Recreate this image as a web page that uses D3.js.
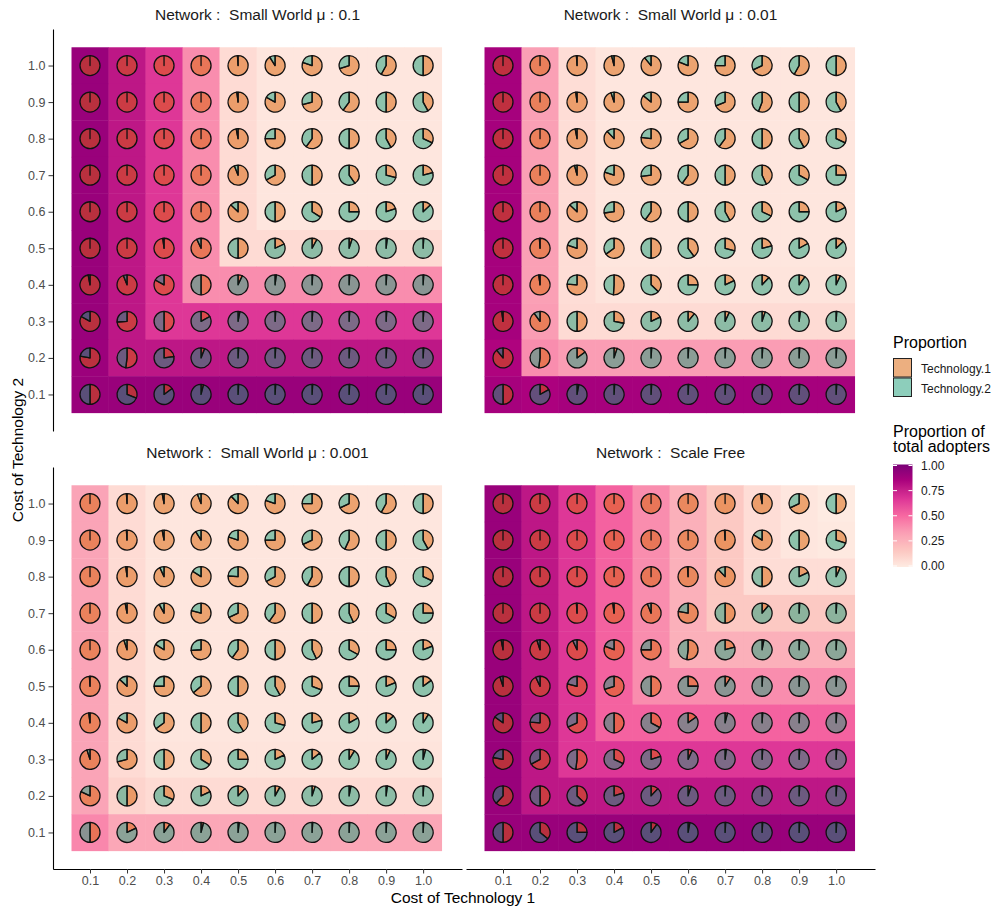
<!DOCTYPE html>
<html><head><meta charset="utf-8">
<script src="https://cdn.jsdelivr.net/npm/d3@7"></script>
<style>
body{margin:0;background:#fff}
svg{font-family:"Liberation Sans",Arial,Helvetica,sans-serif}
text{white-space:pre}
</style>
</head><body>
<svg id="chart" width="997" height="909"></svg>
<script>
// ---------------- DATA ----------------
const cost1 = [0.1,0.2,0.3,0.4,0.5,0.6,0.7,0.8,0.9,1.0];
const cost2Rows = [1.0,0.9,0.8,0.7,0.6,0.5,0.4,0.3,0.2,0.1]; // rows top -> bottom
const panelTitles = [
  "Network :  Small World μ : 0.1",
  "Network :  Small World μ : 0.01",
  "Network :  Small World μ : 0.001",
  "Network :  Scale Free"
];
const seriesNames = ["Technology.1","Technology.2"];
const legendBreaks = [0,0.25,0.5,0.75,1];

// proportion of total adopters (tile fill), rows cost2 = 1.0 ... 0.1
const adoptersSW01 = [
  [0.90,0.78,0.66,0.39,0.07,0.02,0.02,0.02,0.02,0.02],
  [0.90,0.78,0.66,0.39,0.07,0.02,0.02,0.02,0.02,0.02],
  [0.90,0.78,0.66,0.39,0.07,0.02,0.02,0.02,0.02,0.02],
  [0.90,0.78,0.66,0.39,0.07,0.02,0.02,0.02,0.02,0.02],
  [0.90,0.78,0.66,0.39,0.07,0.02,0.02,0.02,0.02,0.02],
  [0.90,0.78,0.66,0.39,0.07,0.07,0.07,0.07,0.07,0.07],
  [0.90,0.78,0.66,0.39,0.39,0.39,0.39,0.39,0.39,0.39],
  [0.90,0.78,0.66,0.66,0.66,0.66,0.66,0.66,0.66,0.66],
  [0.89,0.78,0.78,0.78,0.78,0.78,0.78,0.78,0.78,0.78],
  [0.90,0.90,0.90,0.90,0.90,0.90,0.90,0.90,0.90,0.90]
];
const adoptersSW001 = [
  [0.86,0.33,0.06,0.02,0.02,0.02,0.02,0.02,0.02,0.02],
  [0.86,0.33,0.06,0.02,0.02,0.02,0.02,0.02,0.02,0.02],
  [0.86,0.33,0.06,0.02,0.02,0.02,0.02,0.02,0.02,0.02],
  [0.86,0.33,0.06,0.02,0.02,0.02,0.02,0.02,0.02,0.02],
  [0.86,0.33,0.06,0.02,0.02,0.02,0.02,0.02,0.02,0.02],
  [0.86,0.33,0.06,0.02,0.02,0.02,0.02,0.02,0.02,0.02],
  [0.86,0.33,0.06,0.03,0.03,0.03,0.03,0.03,0.03,0.03],
  [0.86,0.34,0.07,0.07,0.07,0.07,0.07,0.07,0.07,0.07],
  [0.83,0.39,0.34,0.34,0.34,0.34,0.34,0.34,0.34,0.34],
  [0.86,0.84,0.86,0.86,0.86,0.86,0.86,0.86,0.86,0.86]
];
const adoptersSW0001 = [
  [0.31,0.07,0.02,0.02,0.02,0.02,0.02,0.02,0.02,0.02],
  [0.31,0.07,0.02,0.02,0.02,0.02,0.02,0.02,0.02,0.02],
  [0.31,0.07,0.02,0.02,0.02,0.02,0.02,0.02,0.02,0.02],
  [0.31,0.07,0.02,0.02,0.02,0.02,0.02,0.02,0.02,0.02],
  [0.31,0.07,0.02,0.02,0.02,0.02,0.02,0.02,0.02,0.02],
  [0.31,0.07,0.02,0.02,0.02,0.02,0.02,0.02,0.02,0.02],
  [0.31,0.07,0.02,0.02,0.02,0.02,0.02,0.02,0.02,0.02],
  [0.31,0.07,0.03,0.03,0.03,0.03,0.03,0.03,0.03,0.03],
  [0.31,0.10,0.07,0.07,0.07,0.07,0.07,0.07,0.07,0.07],
  [0.41,0.30,0.30,0.30,0.30,0.30,0.30,0.30,0.30,0.30]
];
const adoptersSF = [
  [0.90,0.78,0.66,0.52,0.39,0.26,0.15,0.06,0.02,0.00],
  [0.90,0.78,0.66,0.52,0.39,0.26,0.15,0.06,0.02,0.01],
  [0.90,0.78,0.66,0.52,0.39,0.26,0.15,0.06,0.06,0.06],
  [0.90,0.78,0.66,0.52,0.39,0.26,0.15,0.15,0.15,0.15],
  [0.90,0.78,0.66,0.52,0.39,0.26,0.26,0.26,0.26,0.26],
  [0.90,0.78,0.66,0.52,0.39,0.39,0.39,0.39,0.39,0.39],
  [0.90,0.78,0.66,0.52,0.52,0.52,0.52,0.52,0.52,0.52],
  [0.90,0.78,0.66,0.66,0.66,0.66,0.66,0.66,0.66,0.66],
  [0.90,0.78,0.78,0.78,0.78,0.78,0.78,0.78,0.78,0.78],
  [0.90,0.90,0.90,0.90,0.90,0.90,0.90,0.90,0.90,0.90]
];

// share of Technology.1 among adopters (pie), rows cost2 = 1.0 ... 0.1
const tech1SW01 = [
  [1,1,1,1,0.99,0.91,0.80,0.70,0.58,0.50],
  [1,1,1,1,0.98,0.83,0.71,0.60,0.50,0.42],
  [1,1,1,1,0.97,0.75,0.60,0.50,0.42,0.32],
  [1,1,1,1,0.94,0.67,0.50,0.40,0.29,0.21],
  [1,1,1,1,0.87,0.50,0.34,0.25,0.20,0.13],
  [1,1,0.98,0.93,0.50,0.18,0.08,0.05,0.02,0.01],
  [0.97,0.94,0.83,0.50,0.07,0.02,0.01,0.01,0.01,0.01],
  [0.83,0.74,0.50,0.17,0.03,0.01,0.01,0.01,0.01,0.01],
  [0.78,0.52,0.23,0.06,0.01,0.01,0.01,0.01,0.01,0.01],
  [0.50,0.31,0.15,0.04,0.01,0.01,0.01,0.01,0.01,0.01]
];
const tech1SW001 = [
  [1,1,0.99,0.96,0.89,0.81,0.75,0.68,0.58,0.50],
  [1,1,0.98,0.95,0.86,0.75,0.69,0.56,0.50,0.42],
  [1,1,0.97,0.88,0.77,0.67,0.60,0.50,0.42,0.32],
  [1,1,0.96,0.80,0.73,0.60,0.50,0.43,0.33,0.25],
  [1,1,0.87,0.73,0.60,0.50,0.42,0.32,0.25,0.18],
  [1,0.99,0.80,0.65,0.50,0.40,0.29,0.21,0.17,0.13],
  [1,0.98,0.76,0.51,0.37,0.25,0.18,0.12,0.10,0.07],
  [0.98,0.90,0.50,0.28,0.18,0.11,0.07,0.05,0.02,0.01],
  [0.89,0.52,0.15,0.05,0.01,0.01,0.01,0.01,0.01,0.01],
  [0.50,0.17,0.03,0.01,0.01,0.01,0.01,0.01,0.01,0.01]
];
const tech1SW0001 = [
  [1,0.99,0.97,0.94,0.88,0.80,0.75,0.68,0.58,0.50],
  [1,0.99,0.97,0.91,0.80,0.75,0.68,0.57,0.50,0.42],
  [1,0.98,0.93,0.84,0.76,0.67,0.58,0.50,0.43,0.32],
  [1,0.97,0.92,0.79,0.68,0.60,0.50,0.43,0.33,0.25],
  [1,0.95,0.84,0.74,0.60,0.50,0.43,0.33,0.25,0.19],
  [0.99,0.87,0.75,0.64,0.50,0.42,0.31,0.25,0.19,0.15],
  [0.98,0.83,0.65,0.50,0.41,0.29,0.21,0.17,0.13,0.09],
  [0.95,0.71,0.50,0.34,0.25,0.18,0.14,0.09,0.07,0.04],
  [0.82,0.50,0.31,0.18,0.12,0.08,0.05,0.03,0.02,0.01],
  [0.50,0.18,0.10,0.04,0.02,0.01,0.01,0.01,0.01,0.01]
];
const tech1SF = [
  [1,1,1,1,1,1,1,0.97,0.68,0.50],
  [1,1,1,1,1,1,0.99,0.84,0.50,0.30],
  [1,1,1,1,1,0.99,0.88,0.50,0.18,0.07],
  [1,1,0.99,0.98,0.94,0.78,0.50,0.11,0.01,0.01],
  [0.97,0.95,0.93,0.81,0.75,0.52,0.21,0.03,0.01,0.01],
  [0.95,0.93,0.79,0.70,0.50,0.25,0.09,0.01,0.01,0.01],
  [0.85,0.76,0.68,0.50,0.33,0.15,0.04,0.01,0.01,0.01],
  [0.78,0.67,0.52,0.32,0.20,0.07,0.02,0.01,0.01,0.01],
  [0.62,0.50,0.37,0.20,0.12,0.05,0.01,0.01,0.01,0.01],
  [0.50,0.36,0.25,0.17,0.10,0.03,0.01,0.01,0.01,0.01]
];

const adopterPanels = [adoptersSW01, adoptersSW001, adoptersSW0001, adoptersSF];
const tech1Panels = [tech1SW01, tech1SW001, tech1SW0001, tech1SF];

// ---------------- STYLE ----------------
const rdpu7 = ["#FEEBE2","#FCC5C0","#FA9FB5","#F768A1","#DD3497","#AE017E","#7A0177"];
const techColors = ["#D95F02","#1B9E77"];
const pieOpacity = 0.5;
const panelW = 409, panelH = 402;
const panelPos = [{l:53,t:29},{l:466,t:29},{l:53,t:467},{l:466,t:467}];
const pieR = 10;

const fillScale = d3.scaleLinear()
  .domain(d3.range(rdpu7.length).map(i => i/(rdpu7.length-1)))
  .range(rdpu7).interpolate(d3.interpolateLab).clamp(true);

const svg = d3.select("#chart");
const arc = d3.arc().innerRadius(0).outerRadius(pieR);

panelPos.forEach((p, pi) => {
  const x = d3.scaleLinear().domain([0,1.105]).range([p.l, p.l+panelW]);
  const y = d3.scaleLinear().domain([0,1.1]).range([p.t+panelH, p.t]);
  const g = svg.append("g");
  const cells = [];
  cost2Rows.forEach((c2, ri) => cost1.forEach((c1, ci) => {
    cells.push({c1, c2, a: adopterPanels[pi][ri][ci], s: tech1Panels[pi][ri][ci]});
  }));
  // tiles
  g.selectAll("rect.tile").data(cells).join("rect")
    .attr("class","tile")
    .attr("x", d => x(d.c1-0.05))
    .attr("y", d => y(d.c2+0.05))
    .attr("width", d => x(d.c1+0.05)-x(d.c1-0.05)+0.4)
    .attr("height", d => y(d.c2-0.05)-y(d.c2+0.05)+0.4)
    .attr("fill", d => fillScale(d.a));
  // pies
  const pg = g.selectAll("g.pie").data(cells).join("g")
    .attr("class","pie")
    .attr("transform", d => `translate(${x(d.c1)},${y(d.c2)})`);
  pg.each(function(d){
    const a1 = 2*Math.PI*d.s;
    const sl = [
      {start:0, end:a1, col: techColors[0]},
      {start:a1, end:2*Math.PI, col: techColors[1]}
    ];
    d3.select(this).selectAll("path").data(sl).join("path")
      .attr("d", s => arc({startAngle:s.start, endAngle:s.end}))
      .attr("fill", s => s.col)
      .attr("fill-opacity", pieOpacity)
      .attr("stroke","#111")
      .attr("stroke-width",1.3)
      .attr("stroke-linejoin","round");
  });
  // strip title
  svg.append("text")
    .attr("x", p.l + panelW/2).attr("y", p.t - 9)
    .attr("text-anchor","middle").attr("font-size",15.5).attr("fill","#1a1a1a")
    .text(panelTitles[pi]);
  // axes
  if (pi % 2 === 0) {
    const ax = svg.append("g").attr("transform",`translate(${p.l},0)`)
      .call(d3.axisLeft(y).tickValues(cost1).tickFormat(d3.format(".1f")).tickSize(4.5).tickSizeOuter(0));
    ax.select(".domain").attr("stroke","#000").attr("stroke-width",1.1);
    ax.selectAll(".tick line").attr("stroke","#333");
    ax.selectAll(".tick text").attr("fill","#4d4d4d").attr("font-size",12.5)
      .attr("font-family","Liberation Sans, Arial, sans-serif").attr("x",-7.5);
  }
  if (pi >= 2) {
    const ax = svg.append("g").attr("transform",`translate(0,${p.t+panelH})`)
      .call(d3.axisBottom(x).tickValues(cost1).tickFormat(d3.format(".1f")).tickSize(4.5).tickSizeOuter(0));
    ax.select(".domain").attr("stroke","#000").attr("stroke-width",1.1);
    ax.selectAll(".tick line").attr("stroke","#333");
    ax.selectAll(".tick text").attr("fill","#4d4d4d").attr("font-size",12.5)
      .attr("font-family","Liberation Sans, Arial, sans-serif").attr("y",7.5);
  }
});

// axis titles
svg.append("text").attr("x",463).attr("y",903).attr("text-anchor","middle")
  .attr("font-size",15.5).attr("fill","#000").text("Cost of Technology 1");
svg.append("text").attr("transform","translate(23,450) rotate(-90)").attr("text-anchor","middle")
  .attr("font-size",15.5).attr("fill","#000").text("Cost of Technology 2");

// legend: pie series
const lg = svg.append("g");
lg.append("text").attr("x",893).attr("y",348).attr("font-size",16).attr("fill","#000").text("Proportion");
seriesNames.forEach((n,i) => {
  lg.append("rect").attr("x",893.5).attr("y",358.5+i*19.5).attr("width",18).attr("height",18.5)
    .attr("fill",techColors[i]).attr("fill-opacity",pieOpacity).attr("stroke","#222").attr("stroke-width",1);
  lg.append("text").attr("x",921).attr("y",373+i*19.5).attr("font-size",12).attr("fill","#1a1a1a").text(n);
});

// legend: colorbar
lg.append("text").attr("x",893).attr("y",436.5).attr("font-size",16).attr("fill","#000").text("Proportion of");
lg.append("text").attr("x",893).attr("y",452).attr("font-size",16).attr("fill","#000").text("total adopters");
const barTop = 465.5, barBot = 566;
const by = d3.scaleLinear().domain([0,1]).range([barBot, barTop]);
const defs = svg.append("defs");
const grad = defs.append("linearGradient").attr("id","cbar").attr("x1",0).attr("y1",1).attr("x2",0).attr("y2",0);
d3.range(0,1.0001,0.05).forEach(v => grad.append("stop").attr("offset",v).attr("stop-color",fillScale(v)));
lg.append("rect").attr("x",893).attr("y",barTop-1).attr("width",19.5).attr("height",barBot-barTop+2).attr("fill","url(#cbar)");
legendBreaks.forEach(v => {
  lg.append("line").attr("x1",893).attr("x2",897).attr("y1",by(v)).attr("y2",by(v)).attr("stroke","#fff").attr("stroke-width",1);
  lg.append("line").attr("x1",908.5).attr("x2",912.5).attr("y1",by(v)).attr("y2",by(v)).attr("stroke","#fff").attr("stroke-width",1);
  lg.append("text").attr("x",921).attr("y",by(v)+4.3).attr("font-size",12).attr("fill","#1a1a1a").text(d3.format(".2f")(v));
});
</script>
</body></html>
